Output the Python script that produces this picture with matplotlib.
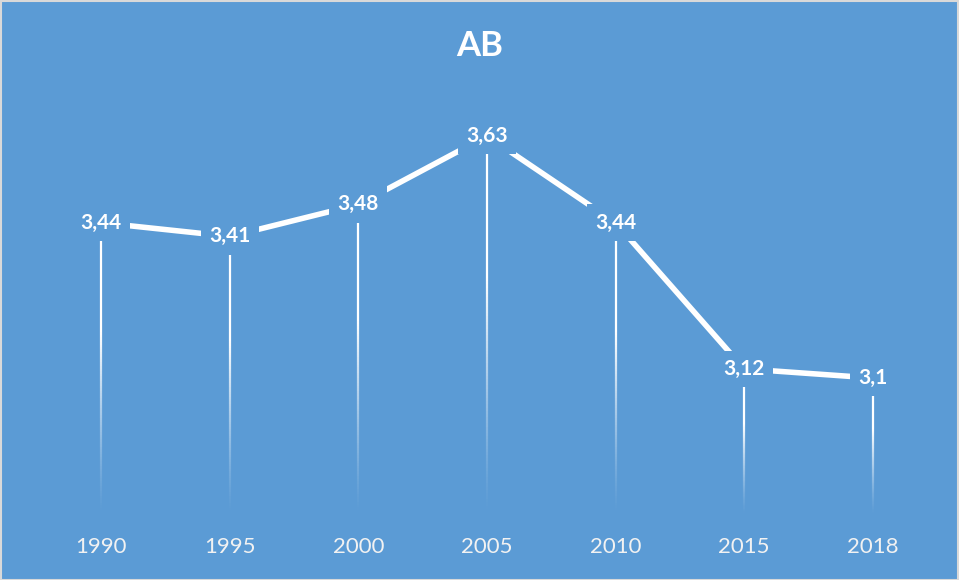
import matplotlib
matplotlib.use("Agg")
import matplotlib.pyplot as plt
import numpy as np
from matplotlib.collections import LineCollection

years = ["1990", "1995", "2000", "2005", "2010", "2015", "2018"]
values = [3.44, 3.41, 3.48, 3.63, 3.44, 3.12, 3.1]
labels = ["3,44", "3,41", "3,48", "3,63", "3,44", "3,12", "3,1"]
title = "AB"

BG = "#5B9BD5"
plt.rcParams['font.family'] = ['Lato', 'DejaVu Sans']

fig = plt.figure(figsize=(9.59, 5.80), dpi=100, facecolor=BG)
ax = fig.add_axes([37/959, 65/580, 900/959, 411/580])
ax.set_facecolor(BG)
ymin, ymax = 2.8, 3.7
ax.set_ylim(ymin, ymax)
x = np.arange(len(years))
ax.set_xlim(-0.5, len(years) - 0.5)

# gradient drop lines
for xi, v in zip(x, values):
    n = 120
    ys = np.linspace(v, ymin, n + 1)
    segs = [[(xi, ys[i]), (xi, ys[i + 1])] for i in range(n)]
    t = np.linspace(0, 1, n)
    alpha = np.clip((1 - t) * 1.6, 0, 1) ** 1.3
    cols = [(1, 1, 1, a) for a in alpha]
    lc = LineCollection(segs, colors=cols, linewidths=1.6, zorder=2,
                        capstyle='butt')
    ax.add_collection(lc)

ax.plot(x, values, color="white", lw=4.0, zorder=3, solid_capstyle='butt')

for xi, v, lab in zip(x, values, labels):
    ax.text(xi, v, lab, ha="center", va="center", color="white",
            fontsize=15, fontweight="bold", zorder=4,
            bbox=dict(boxstyle="square,pad=0.4", fc=BG, ec="none"))

ax.set_xticks(x)
ax.set_xticklabels(years, color="#F2F2F2", fontsize=16)
ax.tick_params(axis="x", length=0, pad=16)
ax.set_yticks([])
for s in ax.spines.values():
    s.set_visible(False)

fig.text(0.5, 1 - 46/580, title, ha="center", va="center", color="white",
         fontsize=25, fontweight="bold")

fig.patches.append(plt.Rectangle((0.5/959, 0.5/580), 1 - 1.5/959, 1 - 1.5/580,
                                 transform=fig.transFigure, fill=False,
                                 ec="#D9D9D9", lw=1.5, zorder=10))

fig.savefig("out.png", dpi=100, facecolor=BG)
